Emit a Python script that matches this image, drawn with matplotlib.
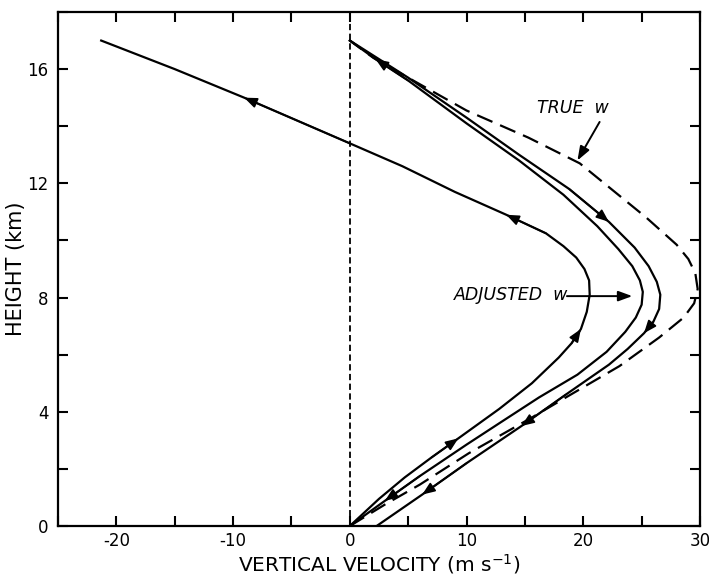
import numpy as np
import matplotlib
matplotlib.use("Agg")
import matplotlib.pyplot as plt
from matplotlib.ticker import MultipleLocator

plt.rcParams['font.family'] = ['DejaVu Sans']
plt.rcParams['lines.scale_dashes'] = False
plt.rcParams['axes.unicode_minus'] = False

# Upward integration (bottom -> top)
up_x = [0, 2.5, 4.7, 7.0, 9.3, 12.8, 15.6, 17.9, 19.0, 19.8, 20.3, 20.55, 20.5, 20.1, 19.4, 18.3, 16.8, 13.4, 9.0, 4.5, 0, -9.05, -15.0, -21.3]
up_y = [0, 0.95, 1.7, 2.4, 3.07, 4.1, 5.0, 5.9, 6.4, 6.9, 7.5, 8.1, 8.6, 9.0, 9.4, 9.8, 10.25, 10.9, 11.7, 12.6, 13.4, 15.0, 16.0, 17.0]
up_arrows = [4, 9, 17, 21]

# Adjusted w (top -> bottom)
adj_x = [0, 2.2, 5.0, 10.0, 14.5, 18.3, 21.2, 23.0, 24.2, 24.85, 25.1, 25.0, 24.5, 23.6, 22.0, 19.5, 16.2, 13.0, 10.0, 6.0, 3.0, 0]
adj_y = [17.0, 16.35, 15.6, 14.1, 12.8, 11.6, 10.5, 9.7, 9.1, 8.6, 8.2, 7.75, 7.3, 6.8, 6.1, 5.3, 4.5, 3.65, 2.85, 1.75, 0.88, 0]
adj_arrows = [(1, -1), (20, 1)]

# Downward integration (top -> bottom)
down_x = [0, 5.0, 10.0, 14.5, 18.8, 22.2, 24.4, 25.6, 26.3, 26.6, 26.5, 26.0, 25.2, 23.8, 22.2, 18.5, 14.7, 10.0, 6.2, 2.3]
down_y = [17.0, 15.7, 14.3, 13.0, 11.8, 10.65, 9.75, 9.1, 8.55, 8.1, 7.6, 7.15, 6.75, 6.2, 5.65, 4.6, 3.5, 2.2, 1.1, 0]
down_arrows = [5, 12, 16, 18]

# True w
true_x = [0, 3.0, 6.0, 10.2, 15.6, 18.5, 23.1, 26.5, 28.6, 29.5, 29.8, 29.6, 29.0, 28.0, 25.4, 19.7, 15.3, 10.0, 5.0, 2.0, 0]
true_y = [0, 0.75, 1.45, 2.55, 3.8, 4.5, 5.6, 6.6, 7.3, 7.8, 8.3, 8.85, 9.35, 9.85, 10.8, 12.7, 13.6, 14.55, 15.7, 16.4, 17.0]

x_ticks = [-20, -10, 0, 10, 20, 30]
y_ticks = [0, 4, 8, 12, 16]

fig = plt.figure(figsize=(7.09, 5.78), dpi=100)
ax = fig.add_axes([58 / 709, 52 / 578, 642 / 709, 514 / 578])

ax.axvline(0, color='black', lw=1.3, dashes=(4.5, 2.5))

for xs, ys in [(up_x, up_y), (adj_x, adj_y), (down_x, down_y)]:
    ax.plot(xs, ys, color='black', lw=1.6, solid_joinstyle='round')
ax.plot(true_x, true_y, color='black', lw=1.6, dashes=(12, 6))

head = dict(arrowstyle='-|>,head_length=0.55,head_width=0.22', color='black',
            lw=1.2, shrinkA=0, shrinkB=0, mutation_scale=14)


def curve_arrow(xs, ys, i, step=1):
    ax.annotate('', xy=(xs[i], ys[i]), xytext=(xs[i - step], ys[i - step]),
                arrowprops=head)


for i in up_arrows:
    curve_arrow(up_x, up_y, i)
for i in down_arrows:
    curve_arrow(down_x, down_y, i)
for i, s in adj_arrows:
    curve_arrow(adj_x, adj_y, i, s)

# labels on the curves
ax.text(19.1, 14.65, 'TRUE  w', style='italic', fontsize=12.5, ha='center', va='center')
ax.annotate('', xy=(19.5, 12.8), xytext=(21.4, 14.15),
            arrowprops=dict(arrowstyle='-|>,head_length=0.6,head_width=0.22',
                            color='black', lw=1.4, mutation_scale=14,
                            shrinkA=0, shrinkB=0))
ax.text(13.8, 8.1, 'ADJUSTED  w', style='italic', fontsize=12.5, ha='center', va='center')
ax.annotate('', xy=(24.2, 8.05), xytext=(18.6, 8.05),
            arrowprops=dict(arrowstyle='-|>,head_length=0.6,head_width=0.22',
                            color='black', lw=1.4, mutation_scale=14,
                            shrinkA=0, shrinkB=0))

ax.set_xlim(-25, 30)
ax.set_ylim(0, 18)
ax.set_xticks(x_ticks)
ax.set_yticks(y_ticks)
ax.xaxis.set_minor_locator(MultipleLocator(5))
ax.yaxis.set_minor_locator(MultipleLocator(2))
ax.tick_params(which='both', direction='in', top=True, right=True,
               length=7, width=1.5, labelsize=12)
ax.tick_params(axis='x', pad=4)
ax.tick_params(axis='y', pad=7)
for sp in ax.spines.values():
    sp.set_linewidth(1.6)

ax.set_xlabel('VERTICAL VELOCITY (m s$^{-1}$)', fontsize=14.5)
ax.set_ylabel('HEIGHT (km)', fontsize=15)
ax.xaxis.set_label_coords(0.5, -0.05)
ax.yaxis.set_label_coords(-0.05, 0.5)

fig.savefig('out.png', dpi=100)
